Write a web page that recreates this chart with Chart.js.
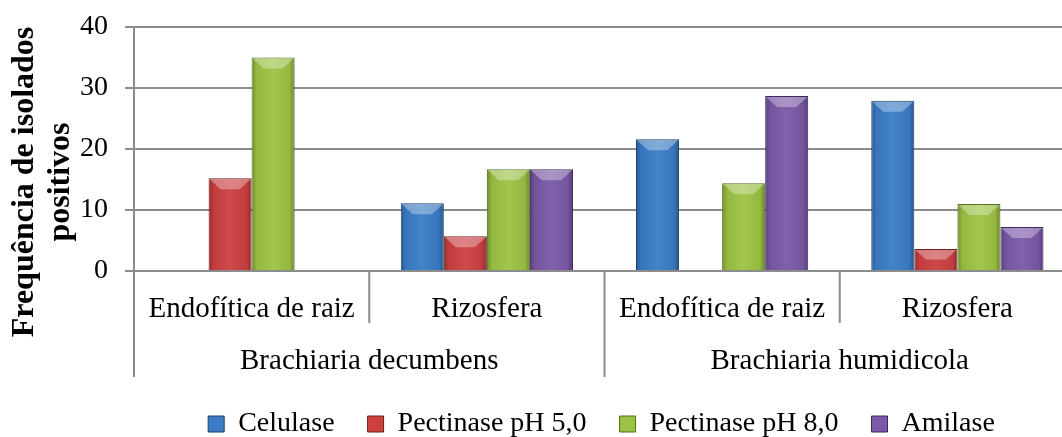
<!DOCTYPE html>
<html>
<head>
<meta charset="utf-8">
<script src="https://cdn.jsdelivr.net/npm/chart.js@4.4.1/dist/chart.umd.min.js"></script>
<style>
    html, body { margin: 0; padding: 0; background: #ffffff; overflow: hidden; }
    #wrap { position: absolute; left: 0; top: 0; width: 1090px; height: 448px; }
</style>
</head>
<body>
<div id="wrap"><canvas id="enzymeChart" width="1090" height="448"></canvas></div>
<script>
const categories = ['Endofítica de raiz', 'Rizosfera', 'Endofítica de raiz', 'Rizosfera'];
const groups = ['Brachiaria decumbens', 'Brachiaria humidicola'];
const seriesNames = ['Celulase', 'Pectinase pH 5,0', 'Pectinase pH 8,0', 'Amilase'];

const celulase = [0, 11.1, 21.6, 27.9];
const pectinase5 = [15.2, 5.7, 0, 3.6];
const pectinase8 = [35.0, 16.7, 14.4, 11.0];
const amilase = [0, 16.7, 28.7, 7.2];

const yMin = 0;
const yMax = 40;
const yStep = 10;

const fillColors = ['#3a7cc6', '#cc4040', '#9cc243', '#7b58a8'];
const edgeColors = ['#1d3d69', '#6e1e1e', '#556f1f', '#3a2959'];

const serif = "'Liberation Serif', 'Times New Roman', serif";
const gridGray = '#8c8c8c';

// bevel / shading on top of each bar, like the Office 3D look
const bevelPlugin = {
    id: 'bevel',
    afterDatasetsDraw(chart) {
        const ctx = chart.ctx;
        chart.data.datasets.forEach(function (ds, di) {
            const meta = chart.getDatasetMeta(di);
            meta.data.forEach(function (bar) {
                const h = bar.base - bar.y;
                if (h < 1) {
                    return;
                }
                const left = bar.x - bar.width / 2;
                const right = bar.x + bar.width / 2;
                ctx.save();
                const g = ctx.createLinearGradient(left, 0, right, 0);
                g.addColorStop(0, 'rgba(0,0,0,0.28)');
                g.addColorStop(0.12, 'rgba(0,0,0,0.05)');
                g.addColorStop(0.5, 'rgba(255,255,255,0.06)');
                g.addColorStop(0.88, 'rgba(0,0,0,0.05)');
                g.addColorStop(1, 'rgba(0,0,0,0.32)');
                ctx.fillStyle = g;
                ctx.fillRect(left + 1, bar.y + 1, bar.width - 2, h - 1);
                const bev = Math.min(11, h / 2);
                ctx.beginPath();
                ctx.moveTo(left + 1, bar.y + 1);
                ctx.lineTo(right - 1, bar.y + 1);
                ctx.lineTo(right - 1 - bev, bar.y + bev);
                ctx.lineTo(left + 1 + bev, bar.y + bev);
                ctx.closePath();
                ctx.fillStyle = 'rgba(255,255,255,0.32)';
                ctx.fill();
                ctx.restore();
            });
        });
    }
};

// the legend sits a bit right of the canvas centre in the original
const legendShift = {
    id: 'legendShift',
    afterLayout(chart) {
        chart.legend.left += 64;
        chart.legend.right += 64;
    }
};

// category separators, axis extension and the two-line y title
const framePlugin = {
    id: 'frame',
    afterDraw(chart) {
        const ctx = chart.ctx;
        const xs = chart.scales.x;
        const xg = chart.scales.x2;
        const area = chart.chartArea;
        ctx.save();
        ctx.strokeStyle = gridGray;
        ctx.lineWidth = 2;
        ctx.beginPath();
        ctx.moveTo(area.left, area.bottom);
        ctx.lineTo(area.left, xg.bottom);
        for (let i = 0; i < categories.length - 1; i++) {
            const px = (xs.getPixelForValue(i) + xs.getPixelForValue(i + 1)) / 2;
            const endY = (i === 1) ? xg.bottom : xs.bottom - 2;
            ctx.moveTo(px, area.bottom);
            ctx.lineTo(px, endY);
        }
        ctx.stroke();

        ctx.fillStyle = '#000';
        ctx.font = 'bold 32px ' + serif;
        ctx.textAlign = 'center';
        ctx.textBaseline = 'alphabetic';
        const midY = 182;
        [['Frequência de isolados', 33], ['positivos', 69]].forEach(function (line) {
            ctx.save();
            ctx.translate(line[1], midY);
            ctx.rotate(-Math.PI / 2);
            ctx.fillText(line[0], 0, 0);
            ctx.restore();
        });
        ctx.restore();
    }
};

const seriesData = [celulase, pectinase5, pectinase8, amilase];

const chart = new Chart(document.getElementById('enzymeChart').getContext('2d'), {
    type: 'bar',
    data: {
        labels: categories,
        datasets: seriesNames.map(function (name, i) {
            return {
                label: name,
                data: seriesData[i],
                backgroundColor: fillColors[i],
                borderColor: edgeColors[i],
                borderWidth: 1,
                categoryPercentage: 0.732,
                barPercentage: 1.0
            };
        })
    },
    options: {
        responsive: false,
        animation: false,
        layout: {
            padding: { left: 0, right: 15, top: 27, bottom: 0 }
        },
        plugins: {
            legend: {
                position: 'bottom',
                labels: {
                    color: '#000',
                    font: { family: serif, size: 28 },
                    boxWidth: 16,
                    boxHeight: 16,
                    padding: 33,
                    generateLabels: function (c) {
                        return c.data.datasets.map(function (ds, i) {
                            return {
                                text: ds.label,
                                fillStyle: fillColors[i],
                                strokeStyle: edgeColors[i],
                                lineWidth: 1,
                                datasetIndex: i
                            };
                        });
                    }
                }
            },
            tooltip: { enabled: false }
        },
        scales: {
            x: {
                type: 'category',
                position: 'bottom',
                weight: 0,
                afterFit: function (scale) {
                    scale.height = 54;
                },
                grid: { display: false, drawTicks: false },
                border: { display: false },
                ticks: {
                    color: '#000',
                    font: { family: serif, size: 29 },
                    padding: 21,
                    maxRotation: 0,
                    autoSkip: false
                }
            },
            x2: {
                type: 'category',
                position: 'bottom',
                weight: 1,
                labels: groups,
                offset: true,
                afterFit: function (scale) {
                    scale.height = 52;
                },
                grid: { display: false, drawTicks: false },
                border: { display: false },
                ticks: {
                    color: '#000',
                    font: { family: serif, size: 29 },
                    padding: 19,
                    maxRotation: 0,
                    autoSkip: false
                }
            },
            y: {
                min: yMin,
                max: yMax,
                afterFit: function (scale) {
                    scale.width = 134;
                    scale.paddingTop = 0;
                },
                grid: {
                    color: gridGray,
                    lineWidth: 2,
                    tickLength: 9,
                    tickColor: gridGray
                },
                border: { color: gridGray, width: 2 },
                ticks: {
                    stepSize: yStep,
                    color: '#000',
                    font: { family: serif, size: 28 },
                    padding: 17
                }
            }
        }
    },
    plugins: [bevelPlugin, legendShift, framePlugin]
});
</script>
</body>
</html>
